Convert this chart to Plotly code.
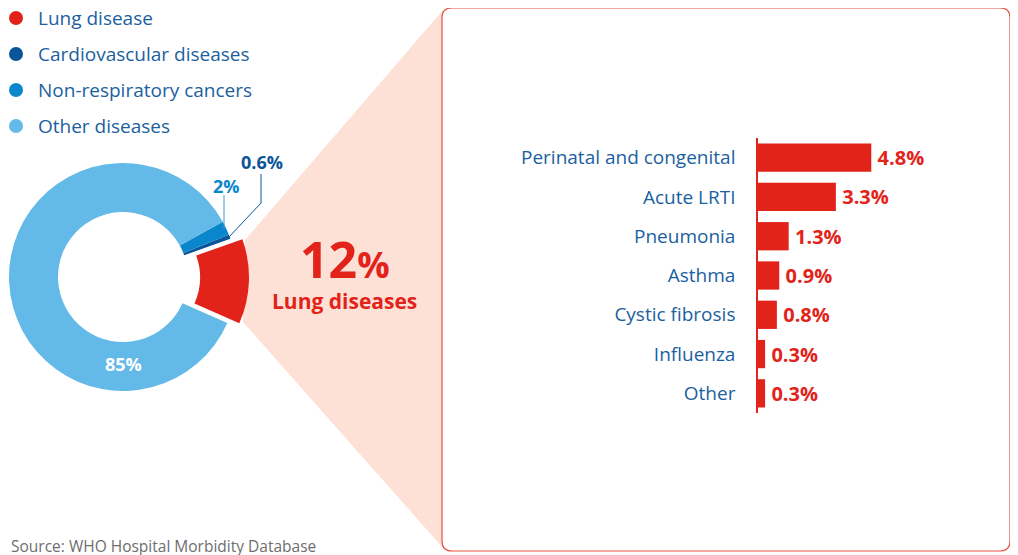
import plotly.graph_objects as go

# ---------------- data ----------------
groups = ["Lung disease", "Cardiovascular diseases", "Non-respiratory cancers", "Other diseases"]
group_values = [12, 0.6, 2, 85]
group_colors = ["#e2231a", "#0a559a", "#0a86cc", "#63b9e8"]

categories = ["Perinatal and congenital", "Acute LRTI", "Pneumonia", "Asthma",
              "Cystic fibrosis", "Influenza", "Other"]
lung_values = [4.8, 3.3, 1.3, 0.9, 0.8, 0.3, 0.3]

# page has an 8px body margin -> figure placed at (8, 8) in the window
OFF = 8
W, H = 1018 - OFF, 555 - OFF
FONT = "Open Sans"
TXT_BLUE = "#1b5fa0"
RED = "#e2231a"
PEACH = "#fde1d7"


def px(x):
    return (x - OFF) / W


def py(y):
    return 1 - (y - OFF) / H


fig = go.Figure()

# ---- donut (all but lung slice) ----
cx, cy, r = 123, 277, 114
rotation = 70.4
fig.add_trace(go.Pie(
    values=group_values, labels=groups, sort=False, direction="counterclockwise",
    rotation=rotation, hole=0.57, textinfo="none", showlegend=False,
    marker=dict(colors=["rgba(0,0,0,0)"] + group_colors[1:], line=dict(width=0)),
    domain=dict(x=[px(cx - r), px(cx + r)], y=[py(cy + r), py(cy - r)]),
))
# ---- pulled-out lung slice ----
dx, dy = 12, 0.4
fig.add_trace(go.Pie(
    values=group_values, labels=groups, sort=False, direction="counterclockwise",
    rotation=rotation, hole=0.57, textinfo="none", showlegend=False,
    marker=dict(colors=[group_colors[0]] + ["rgba(0,0,0,0)"] * 3, line=dict(width=0)),
    domain=dict(x=[px(cx + dx - r), px(cx + dx + r)], y=[py(cy + dy + r), py(cy + dy - r)]),
))

# ---- bar chart ----
fig.add_trace(go.Bar(
    x=lung_values, y=categories, orientation="h", marker=dict(color=RED, line=dict(width=0)),
    width=0.72, text=[f"\u2009{v}%" for v in lung_values], texttemplate="<b>%{text}</b>",
    textposition="outside", cliponaxis=False,
    textfont=dict(family=FONT, size=20, color=RED), showlegend=False,
))

shapes = []
# peach connector
peach_pts = [(245, 240), (443, 10), (443, 548), (243, 322)]
path = "M " + " L ".join(f"{px(x)},{py(y)}" for x, y in peach_pts) + " Z"
shapes.append(dict(type="path", xref="paper", yref="paper", path=path,
                   fillcolor=PEACH, line=dict(width=0), layer="below"))
# rounded box
bx0, by0, bx1, by1, rc = 442, 8, 1010, 551, 10
box = (f"M {px(bx0 + rc)},{py(by0)} L {px(bx1 - rc)},{py(by0)} "
       f"Q {px(bx1)},{py(by0)} {px(bx1)},{py(by0 + rc)} L {px(bx1)},{py(by1 - rc)} "
       f"Q {px(bx1)},{py(by1)} {px(bx1 - rc)},{py(by1)} L {px(bx0 + rc)},{py(by1)} "
       f"Q {px(bx0)},{py(by1)} {px(bx0)},{py(by1 - rc)} L {px(bx0)},{py(by0 + rc)} "
       f"Q {px(bx0)},{py(by0)} {px(bx0 + rc)},{py(by0)} Z")
shapes.append(dict(type="path", xref="paper", yref="paper", path=box,
                   fillcolor="white", line=dict(color="#e9503f", width=1.2), layer="below"))
# leader lines
shapes.append(dict(type="path", xref="paper", yref="paper",
                   path=f"M {px(224)},{py(229)} L {px(224)},{py(195)}",
                   line=dict(color="#3a9ad8", width=1)))
shapes.append(dict(type="path", xref="paper", yref="paper",
                   path=f"M {px(229)},{py(237)} L {px(261)},{py(203)} L {px(261)},{py(174)}",
                   line=dict(color=group_colors[1], width=1)))

annotations = []
# legend
for i, (g, c) in enumerate(zip(groups, group_colors)):
    yy = 18 + 36 * i
    shapes.append(dict(type="circle", xref="paper", yref="paper",
                       x0=px(9), x1=px(23), y0=py(yy + 7), y1=py(yy - 7),
                       fillcolor=c, line=dict(width=0)))
    annotations.append(dict(x=px(36), y=py(yy), xref="paper", yref="paper", text=g,
                            showarrow=False, xanchor="left", yanchor="middle",
                            font=dict(family=FONT, size=19, color=TXT_BLUE)))

# donut labels
annotations.append(dict(x=px(123), y=py(364), xref="paper", yref="paper",
                        text=f"<b>{group_values[3]}%</b>", showarrow=False,
                        xanchor="center", yanchor="middle",
                        font=dict(family=FONT, size=18, color="white")))
annotations.append(dict(x=px(226), y=py(186), xref="paper", yref="paper",
                        text=f"<b>{group_values[2]}%</b>", showarrow=False,
                        xanchor="center", yanchor="middle",
                        font=dict(family=FONT, size=18, color=group_colors[2])))
annotations.append(dict(x=px(262), y=py(162), xref="paper", yref="paper",
                        text=f"<b>{group_values[1]}%</b>", showarrow=False,
                        xanchor="center", yanchor="middle",
                        font=dict(family=FONT, size=18, color=group_colors[1])))
# big label
annotations.append(dict(x=px(345), y=py(259), xref="paper", yref="paper",
                        text=f"<b>{group_values[0]}<span style='font-size:36px'>%</span></b>",
                        showarrow=False, xanchor="center", yanchor="middle",
                        font=dict(family=FONT, size=50, color=RED)))
annotations.append(dict(x=px(344), y=py(301), xref="paper", yref="paper",
                        text="<b>Lung diseases</b>", showarrow=False,
                        xanchor="center", yanchor="middle",
                        font=dict(family=FONT, size=21, color=RED)))
# source
annotations.append(dict(x=px(9), y=py(546), xref="paper", yref="paper",
                        text="Source: WHO Hospital Morbidity Database", showarrow=False,
                        xanchor="left", yanchor="middle",
                        font=dict(family=FONT, size=15.5, color="#6d6e70")))

fig.update_layout(
    width=W, height=H, margin=dict(l=0, r=0, t=0, b=0),
    paper_bgcolor="white", plot_bgcolor="rgba(0,0,0,0)",
    shapes=shapes, annotations=annotations,
    xaxis=dict(domain=[px(758), px(994)], range=[0, 10], visible=False, fixedrange=True),
    yaxis=dict(domain=[py(413), py(138)], autorange="reversed", showline=True,
               linecolor=RED, linewidth=1.5, showgrid=False, zeroline=False,
               ticks="", ticklabelstandoff=17,
               tickfont=dict(family=FONT, size=19, color=TXT_BLUE)),
    bargap=0.28,
)

fig.write_html("out.html")
